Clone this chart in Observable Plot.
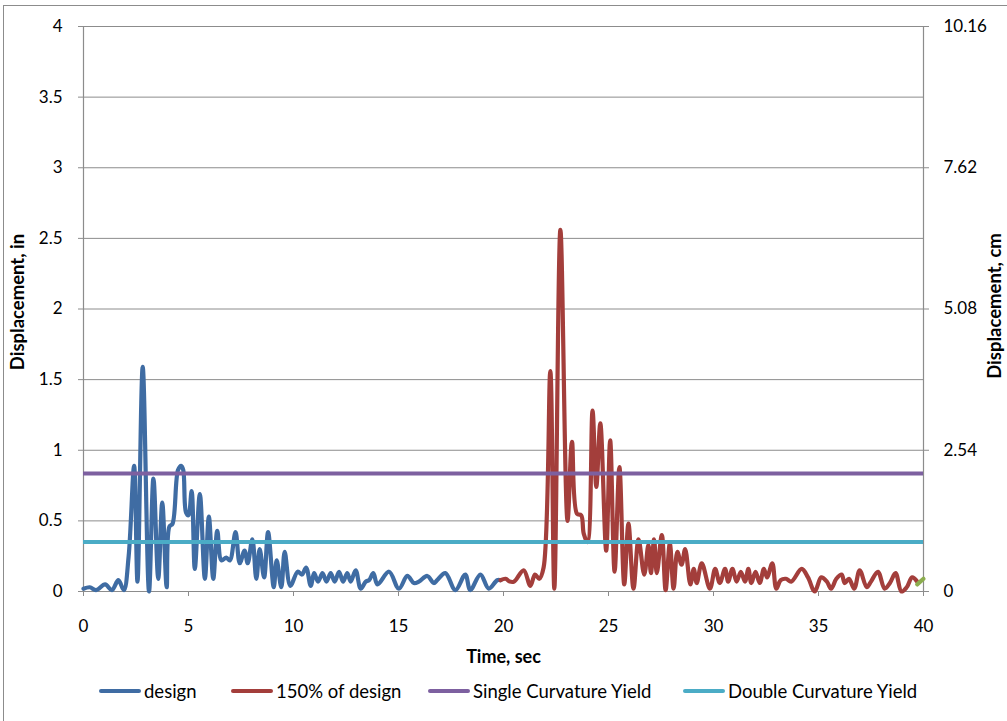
<!DOCTYPE html>
<html><head><meta charset="utf-8">
<script src="https://cdn.jsdelivr.net/npm/d3@7"></script>
<script src="https://cdn.jsdelivr.net/npm/@observablehq/plot@0.6"></script>
<style>
body{margin:0;background:#fff;font-family:Lato,"Open Sans",sans-serif;}
#wrap{position:relative;width:1007px;height:721px;overflow:hidden;background:#fff;}
#frame{position:absolute;left:3px;top:5px;width:1100px;height:800px;border-left:1px solid #8c8c8c;border-top:1px solid #8c8c8c;pointer-events:none;}
#chart{position:absolute;left:0;top:0;}
.leg{position:absolute;top:680px;height:22px;display:flex;align-items:center;font-size:18.5px;color:#000;white-space:nowrap;}
.sw{display:inline-block;width:42px;height:4px;border-radius:2px;margin-right:3px;}
</style></head>
<body><div id="wrap"><div id="chart"></div><div id="frame"></div><div id="legendBox"></div></div>
<script>
// ---- data ----
const designT = [0,0.3,0.6,1.03,1.35,1.66,1.92,2.15,2.41,2.57,2.82,3.12,3.33,3.56,3.75,3.96,4.09,4.24,4.5,4.65,4.75,4.88,5.0,5.15,5.30,5.54,5.78,5.97,6.18,6.37,6.57,6.8,6.97,7.24,7.44,7.67,7.82,8.04,8.23,8.39,8.6,8.79,9.06,9.2,9.42,9.58,9.85,10.2,10.4,10.6,10.82,10.98,11.17,11.38,11.57,11.77,11.96,12.17,12.36,12.56,12.72,12.96,13.2,13.44,13.6,13.8,14.0,14.55,15.02,15.42,15.73,15.97,16.37,16.68,16.84,17.23,17.71,18.18,18.42,18.9,19.3,19.7,19.86];
const designV = [0.02,0.03,0.01,0.05,0.01,0.08,0.01,0.25,0.89,0.07,1.59,0.0,0.80,0.09,0.63,0.03,0.46,0.48,0.86,0.89,0.86,0.56,0.54,0.71,0.16,0.69,0.09,0.53,0.09,0.43,0.22,0.24,0.22,0.42,0.20,0.29,0.20,0.37,0.09,0.30,0.10,0.42,0.03,0.22,0.03,0.28,0.04,0.14,0.12,0.17,0.04,0.13,0.07,0.13,0.07,0.13,0.07,0.14,0.07,0.13,0.07,0.15,0.02,0.07,0.08,0.13,0.05,0.14,0.02,0.11,0.06,0.07,0.11,0.06,0.08,0.13,0.01,0.12,0.01,0.12,0.02,0.08,0.08];
const scaledT = [19.86,20.1,20.3,20.5,20.96,21.28,21.5,21.7,21.91,22.23,22.42,22.71,23.05,23.26,23.5,23.7,23.82,24.0,24.24,24.42,24.61,24.89,25.08,25.29,25.52,25.75,25.95,26.19,26.43,26.7,26.9,27.02,27.17,27.3,27.54,27.72,27.92,28.1,28.28,28.48,28.65,28.9,29.06,29.2,29.44,29.83,30.08,30.3,30.55,30.7,30.9,31.1,31.3,31.5,31.66,31.8,32.0,32.2,32.4,32.55,32.8,32.99,33.2,33.45,33.7,34.2,34.5,34.82,35.13,35.4,35.6,35.85,36.1,36.25,36.45,36.7,36.96,37.3,37.5,37.83,38.15,38.4,38.67,38.95,39.2,39.46,39.7];
const scaledV = [0.08,0.09,0.07,0.07,0.15,0.04,0.12,0.09,0.17,1.56,0.02,2.56,0.50,1.06,0.55,0.54,0.41,0.35,1.28,0.74,1.19,0.29,1.07,0.14,0.88,0.05,0.48,0.02,0.37,0.12,0.33,0.13,0.37,0.13,0.40,0.01,0.34,0.02,0.28,0.19,0.30,0.05,0.16,0.06,0.20,0.02,0.16,0.06,0.16,0.07,0.16,0.07,0.14,0.07,0.16,0.06,0.14,0.06,0.16,0.10,0.20,0.02,0.08,0.09,0.07,0.16,0.10,0.00,0.10,0.07,0.02,0.09,0.12,0.06,0.09,0.02,0.15,0.03,0.07,0.14,0.02,0.06,0.13,0.00,0.03,0.10,0.07];
const extraT = [39.7,40];
const extraV = [0.05,0.09];
const singleYield = 0.835;
const doubleYield = 0.35;
const xTicks = [0,5,10,15,20,25,30,35,40];
const yTicks = [0,0.5,1,1.5,2,2.5,3,3.5,4];
const cmTicks = [0,1,2,3,4];
const cmLabels = ["0","2.54","5.08","7.62","10.16"];
const seriesNames = ["design","150% of design","Single Curvature Yield","Double Curvature Yield"];
const seriesColors = ["#3f6ca3","#a33e3b","#7d60a0","#4bacc6"];
const extraColor = "#8cad4f";

const toRows = (T,V) => T.map((t,i)=>({t, v:V[i]}));
const grid = "#8c8c8c";
const font = "Lato, 'Open Sans', sans-serif";

const chart = Plot.plot({
  width:1007, height:680,
  marginLeft:83, marginRight:84, marginTop:26, marginBottom:89,
  x:{domain:[0,40]},
  y:{domain:[0,4]},
  style:{fontFamily:font, fontSize:"17px", color:"#000", background:"transparent"},
  marks:[
    Plot.gridY(yTicks,{stroke:grid, strokeOpacity:1, strokeWidth:1}),
    Plot.ruleX([0,40],{stroke:grid, strokeWidth:1.2}),
    Plot.ruleY([0],{stroke:grid, strokeWidth:1.2}),
    Plot.axisY(yTicks,{anchor:"left", tickSize:5, tickPadding:16, stroke:grid, fill:"#000", fontSize:17, tickFormat:d=>String(d), label:null}),
    Plot.axisY(cmTicks,{anchor:"right", tickSize:5, tickPadding:15, stroke:grid, fill:"#000", fontSize:17, tickFormat:d=>cmLabels[cmTicks.indexOf(d)], label:null}),
    Plot.axisX(xTicks,{anchor:"bottom", tickSize:5, tickPadding:23, stroke:grid, fill:"#000", fontSize:17, tickFormat:d=>String(d), label:null}),
    Plot.line(toRows(designT,designV),{x:"t", y:"v", stroke:seriesColors[0], strokeWidth:4.2, curve:"catmull-rom", strokeLinejoin:"round", strokeLinecap:"round"}),
    Plot.line(toRows(scaledT,scaledV),{x:"t", y:"v", stroke:seriesColors[1], strokeWidth:4.2, curve:"catmull-rom", strokeLinejoin:"round", strokeLinecap:"round"}),
    Plot.ruleY([singleYield],{stroke:seriesColors[2], strokeWidth:4}),
    Plot.ruleY([doubleYield],{stroke:seriesColors[3], strokeWidth:4}),
    Plot.line(toRows(extraT,extraV),{x:"t", y:"v", stroke:extraColor, strokeWidth:4.2, strokeLinecap:"round"}),
    Plot.text(["Time, sec"],{frameAnchor:"bottom", dy:71, fontWeight:"bold", fontSize:18}),
    Plot.text(["Displacement, in"],{frameAnchor:"middle", textAnchor:"middle", dx:-485, dy:-7, rotate:-90, fontWeight:"bold", fontSize:18.5}),
    Plot.text(["Displacement, cm"],{frameAnchor:"middle", textAnchor:"middle", dx:492, dy:-3, rotate:-90, fontWeight:"bold", fontSize:18.5})
  ]
});
document.getElementById("chart").appendChild(chart);

const legLefts = [99,231,428,683];
const box = document.getElementById("legendBox");
seriesNames.forEach((n,i)=>{
  const d = document.createElement("div");
  d.className = "leg";
  d.style.left = legLefts[i]+"px";
  const s = document.createElement("span");
  s.className = "sw"; s.style.background = seriesColors[i];
  d.appendChild(s);
  d.appendChild(document.createTextNode(n));
  box.appendChild(d);
});
</script></body></html>
